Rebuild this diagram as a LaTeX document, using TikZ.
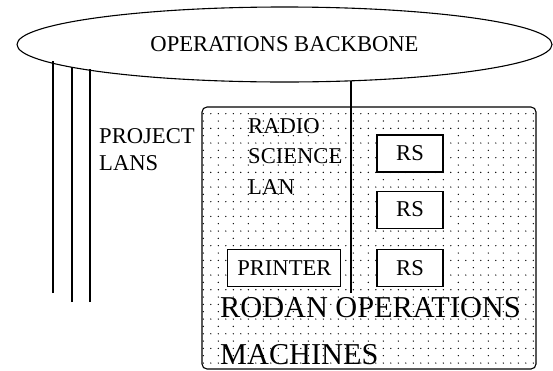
\documentclass[tikz,border=0pt]{standalone}
\usepackage{fontspec}
\setmainfont{Liberation Serif}
\usetikzlibrary{positioning,shapes.geometric,backgrounds}
\newcommand{\smalltype}{\fontsize{22.6}{27}\selectfont}
\newcommand{\bigtype}{\fontsize{30.3}{47}\selectfont}
\tikzset{
  net/.style={ellipse, draw, line width=1.1pt, inner sep=0pt, font=\smalltype},
  unit/.style={draw, line width=1.1pt, fill=white, inner sep=0pt,
               minimum height=37pt, font=\smalltype},
  area/.style={draw, line width=1.1pt, rounded corners=5pt, inner sep=0pt},
  tag/.style={inner sep=0pt, anchor=west, align=left},
  wire/.style={line width=1.1pt},
  speck/.style={fill=black},
}

\begin{document}
\begin{tikzpicture}[x=1pt,y=-1pt]
  \useasboundingbox (0,0) rectangle (553,370);
  % backbone and machine room
  \node[net, minimum width=535pt, minimum height=75pt] (backbone) at (284.5,44.5) {OPERATIONS BACKBONE};
  \node[area, minimum width=334pt, minimum height=262pt] (rodan) at (369,238) {};
  \begin{scope}[on background layer]
    \clip[rounded corners=5pt] (rodan.south west) rectangle (rodan.north east);
    \foreach \j in {0,...,17}
      \foreach \i in {0,...,44}
        \fill[speck] (203.3+7.5*\i, 113.7+14.67*\j) circle (0.7pt);
    \foreach \j in {0,...,16}
      \foreach \i in {0,...,22}
        \fill[speck] (203.3+15*\i, 121+14.67*\j) circle (0.7pt);
  \end{scope}
  % labels
  \node[tag, font={\fontsize{22.6}{27}\selectfont}] (project) at (99,149.5) {PROJECT\\LANS};
  \node[tag, font={\fontsize{22.6}{30.5}\selectfont}] (radio) at (248,156.5) {RADIO\\SCIENCE\\LAN};
  \node[tag, font=\bigtype] (machines) at (220,331.5) {RODAN OPERATIONS\\MACHINES};
  % stations
  \node[unit, minimum width=66pt] (rs1) at (410,153.5) {RS};
  \node[unit, minimum width=66pt, below=18pt of rs1] (rs2) {RS};
  \node[unit, minimum width=66pt, below=20pt of rs2] (rs3) {RS};
  \node[unit, minimum width=113pt, left=35pt of rs3] (printer) {PRINTER};
  % drops
  \coordinate (lan1) at (53,293);
  \coordinate (lan2) at (72,302);
  \coordinate (lan3) at (90,302);
  \coordinate (drop) at (351,293);
  \draw[wire] (lan1) -- (lan1 |- backbone.184.64);
  \draw[wire] (lan2) -- (lan2 |- backbone.186.12);
  \draw[wire] (lan3) -- (lan3 |- backbone.187.53);
  \draw[wire] (drop) -- (drop |- backbone.-28.6);
\end{tikzpicture}
\end{document}
